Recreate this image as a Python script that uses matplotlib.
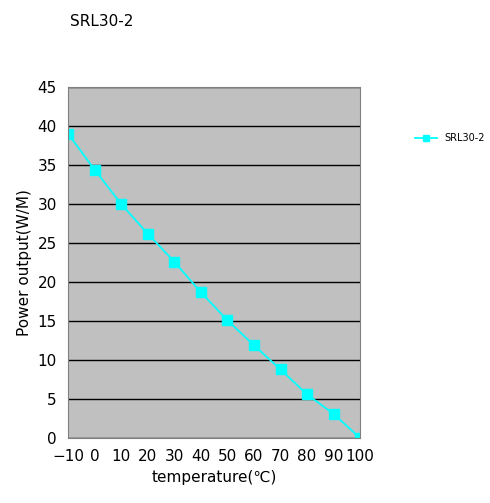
import matplotlib
matplotlib.use("Agg")
import matplotlib.pyplot as plt

temps = [-10, 0, 10, 20, 30, 40, 50, 60, 70, 80, 90, 100]
power = [39.0, 34.4, 30.0, 26.2, 22.6, 18.7, 15.1, 11.9, 8.8, 5.6, 3.1, 0.0]
series_name = "SRL30-2"

fig = plt.figure(figsize=(4.9, 5.03), dpi=100)
ax = fig.add_axes([0.139, 0.129, 0.596, 0.698])
ax.set_facecolor("#c0c0c0")
ax.plot(temps, power, color="#00ffff", marker="s", markersize=7, linewidth=1.3, label=series_name)
ax.set_xlim(-10, 100)
ax.set_ylim(0, 45)
ax.set_xticks(temps)
ax.set_yticks(range(0, 46, 5))
ax.yaxis.grid(True, color="black", linewidth=1)
ax.set_axisbelow(True)
ax.tick_params(labelsize=11, length=0, pad=8)
for s in ax.spines.values():
    s.set_color("#808080")
ax.set_xlabel("temperature(℃)", fontsize=11)
ax.set_ylabel("Power output(W/M)", fontsize=11)
fig.text(0.143, 0.972, series_name, fontsize=11, va="top")
fig.legend(loc="center left", bbox_to_anchor=(0.83, 0.725), frameon=False, fontsize=7,
           handlelength=2.2, markerscale=0.6)
fig.savefig("out.png", dpi=100)
